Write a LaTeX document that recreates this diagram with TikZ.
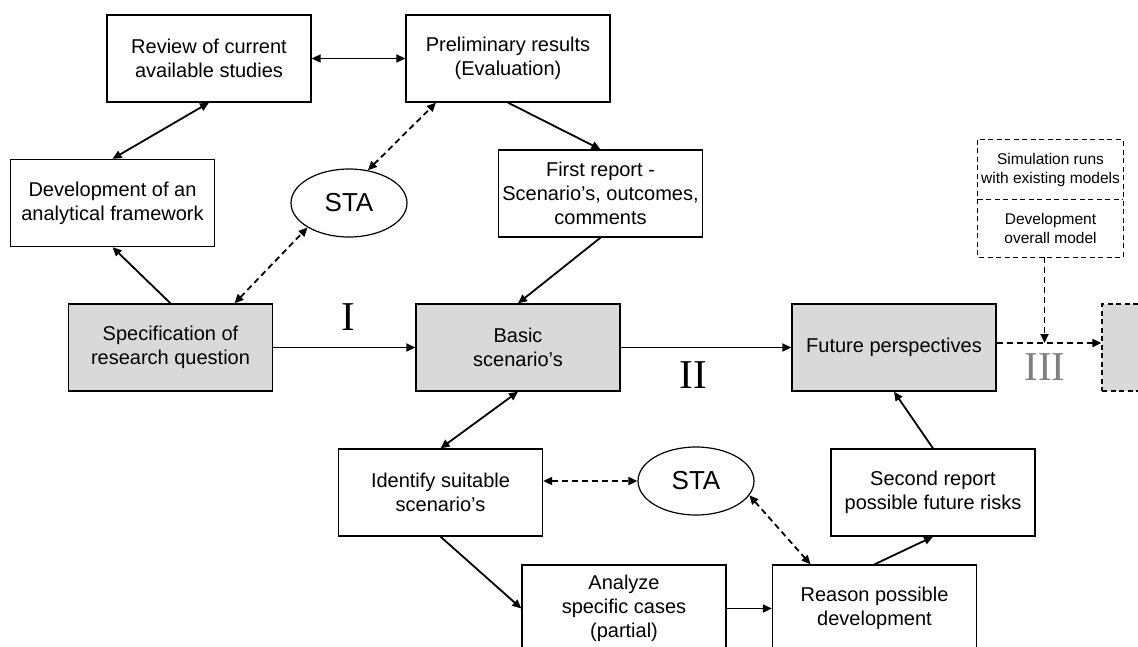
\documentclass[tikz,border=0pt]{standalone}
\usepackage{fontspec}
\setmainfont{Liberation Sans}
\newfontfamily\romfont{Liberation Serif}
\usetikzlibrary{arrows.meta,shapes.geometric}
\definecolor{boxgrey}{RGB}{217,217,217}
\definecolor{numgrey}{RGB}{128,128,128}
\begin{document}
\begin{tikzpicture}[x=1pt,y=-1pt,
  box/.style={draw,line width=1.3pt,minimum width=204pt,minimum height=87pt,inner sep=0pt,align=center,font=\fontsize{20}{24}\selectfont},
  greybox/.style={box,fill=boxgrey},
  staell/.style={ellipse,draw,line width=1.2pt,minimum width=116pt,minimum height=68pt,inner sep=0pt,font=\fontsize{26}{30}\selectfont},
  simtext/.style={minimum width=145pt,inner sep=0pt,align=center,font=\fontsize{15.5}{19}\selectfont},
  simline/.style={line width=1.2pt,dash pattern=on 5pt off 3.5pt},
  tip/.tip={Triangle[length=9pt,width=8pt]},
  arr/.style={line width=1.8pt,-tip},
  darr/.style={line width=1.8pt,tip-tip},
  dsh/.style={dash pattern=on 6pt off 4pt},
  roman/.style={inner sep=0pt,font=\romfont\fontsize{41}{41}\selectfont}
]
\path[use as bounding box,fill=white] (0,0) rectangle (1138,646);
\clip (0,0) rectangle (1138,646);

% top row
\node[box] (review) at (209,58.5) {Review of current\\available studies};
\node[box] (prelim) at (508,58.5) {Preliminary results\\(Evaluation)};
\node[box] (dev) at (112.5,203) {Development of an\\analytical framework};
\node[staell] (sta1) at (349,203) {STA};
\node[box] (first) at (600.5,193.5) {First report -\\Scenario’s, outcomes,\\comments};

% middle row
\node[greybox] (spec) at (170.5,347.5) {Specification of\\research question};
\node[greybox] (basic) at (518,347.5) {Basic\\scenario’s};
\node[greybox] (future) at (894,347.5) {Future perspectives};
\node[box,fill=boxgrey,simline] (grey) at (1204,347.5) {};

% simulation box
\node[simtext,minimum height=59pt] (sim1) at (1050.5,169.5) {Simulation runs\\with existing models};
\node[simtext,minimum height=58pt] (sim2) at (1050.5,228) {Development\\overall model};
\draw[simline] (sim1.north west) rectangle (sim2.south east);
\draw[simline] (sim1.south west) -- (sim1.south east);

% bottom row
\node[box] (ident) at (440.5,492.5) {Identify suitable\\scenario’s};
\node[staell] (sta2) at (696,481) {STA};
\node[box] (second) at (933,492.5) {Second report\\possible future risks};
\node[box] (analyze) at (624,608.5) {Analyze\\specific cases\\(partial)};
\node[box] (reason) at (874.5,608.5) {Reason possible\\development};

% labels
\node[roman] (l1) at (348,317.5) {I};
\node[roman] (l2) at (693,375) {II};
\node[roman,text=numgrey] (l3) at (1045,367.5) {III};

% connectors
\draw[darr] (review.east) -- (prelim.west);
\draw[darr] (review.south) -- (dev.north);
\draw[arr] (spec.north) -- (dev.south);
\draw[darr,dsh] ([xshift=64pt]spec.north) -- (sta1.south west);
\draw[darr,dsh] (sta1.60) -- ([xshift=-72pt]prelim.south);
\draw[arr] (prelim.south) -- (first.north);
\draw[arr] (first.south) -- (basic.north);
\draw[arr] (spec.east) -- (basic.west);
\draw[arr] (basic.east) -- (future.west);
\draw[arr,dsh] ([yshift=4.5pt]future.east) -- ([yshift=4.5pt]grey.west);
\coordinate (simout) at ([xshift=-6pt]sim2.south);
\coordinate (join) at ([yshift=4.5pt]future.east -| simout);
\draw[arr,dsh] (simout) -- (join);
\draw[darr] (basic.south) -- (ident.north);
\draw[darr,dsh] (ident.east |- sta2.west) -- (sta2.west);
\draw[arr] (ident.south) -- (analyze.west);
\draw[arr] (analyze.east) -- (reason.west);
\draw[darr,dsh] (sta2.-15) -- ([xshift=-64pt]reason.north);
\draw[arr] (reason.north) -- (second.south);
\draw[arr] (second.north) -- (future.south);
\end{tikzpicture}
\end{document}
